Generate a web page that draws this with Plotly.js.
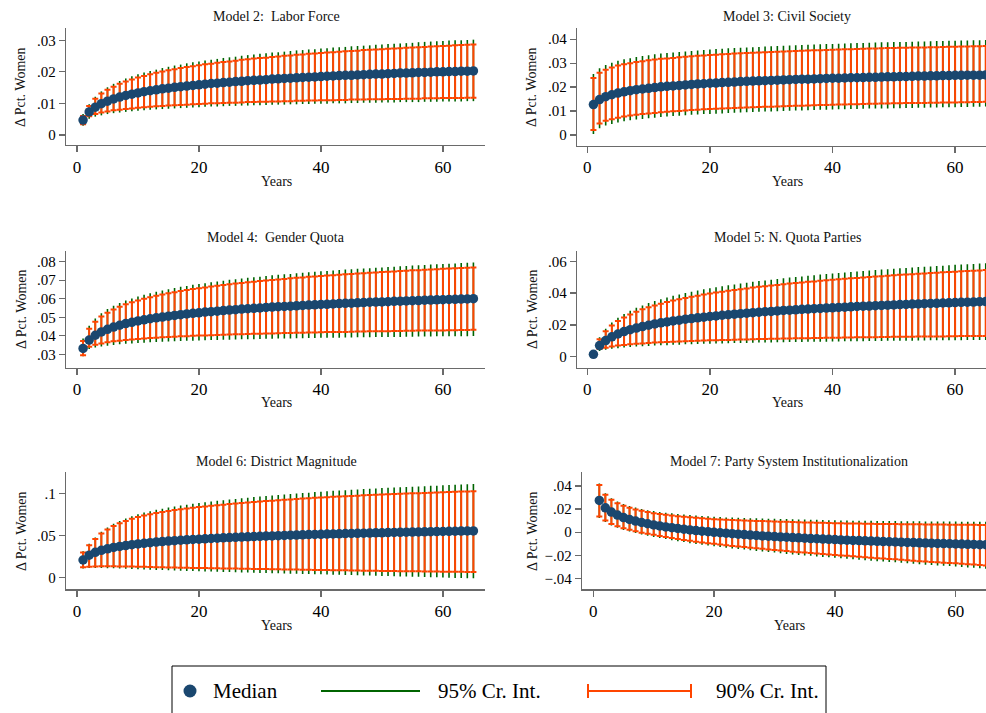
<!DOCTYPE html>
<html><head><meta charset="utf-8">
<script src="https://cdn.plot.ly/plotly-3.0.1.min.js"></script>
<style>html,body{margin:0;padding:0;background:#fff;}#chart{width:986px;height:713px;}</style>
</head><body><div id="chart"></div>
<script>
const years = [1,2,3,4,5,6,7,8,9,10,11,12,13,14,15,16,17,18,19,20,21,22,23,24,25,26,27,28,29,30,31,32,33,34,35,36,37,38,39,40,41,42,43,44,45,46,47,48,49,50,51,52,53,54,55,56,57,58,59,60,61,62,63,64,65];

// Model 2: Labor Force
const m2_median = [.0047,.0073,.0088,.0099,.0107,.0114,.0120,.0125,.0129,.0133,
.0137,.0140,.0143,.0146,.0148,.0151,.0153,.0155,.0157,.0159,
.0161,.0163,.0164,.0166,.0167,.0169,.0170,.0172,.0173,.0174,
.0175,.0177,.0178,.0179,.0180,.0181,.0182,.0183,.0184,.0185,
.0186,.0187,.0188,.0189,.0189,.0190,.0191,.0192,.0193,.0193,
.0194,.0195,.0196,.0196,.0197,.0198,.0198,.0199,.0200,.0200,
.0201,.0201,.0202,.0202,.0203];
const m2_hi90 = [.0060,.0092,.0115,.0131,.0143,.0153,.0162,.0169,.0176,.0182,
.0187,.0192,.0197,.0201,.0205,.0208,.0212,.0215,.0218,.0221,
.0224,.0226,.0229,.0231,.0233,.0235,.0238,.0240,.0242,.0244,
.0245,.0247,.0249,.0251,.0252,.0254,.0255,.0257,.0258,.0260,
.0261,.0262,.0264,.0265,.0266,.0267,.0269,.0270,.0271,.0272,
.0273,.0274,.0275,.0276,.0277,.0278,.0279,.0280,.0281,.0282,
.0283,.0284,.0285,.0286,.0287];
const m2_lo90 = [.0034,.0059,.0066,.0071,.0074,.0078,.0080,.0082,.0084,.0086,
.0088,.0089,.0091,.0092,.0093,.0094,.0095,.0096,.0097,.0098,
.0099,.0100,.0100,.0101,.0102,.0102,.0103,.0104,.0104,.0105,
.0105,.0106,.0106,.0107,.0107,.0108,.0108,.0109,.0109,.0110,
.0110,.0110,.0111,.0111,.0112,.0112,.0112,.0113,.0113,.0113,
.0114,.0114,.0114,.0115,.0115,.0115,.0116,.0116,.0116,.0117,
.0117,.0117,.0117,.0118,.0118];
const m2_hi95 = [.0066,.0097,.0121,.0138,.0151,.0162,.0171,.0179,.0186,.0192,
.0198,.0203,.0207,.0212,.0216,.0220,.0223,.0227,.0230,.0233,
.0236,.0238,.0241,.0244,.0246,.0248,.0251,.0253,.0255,.0257,
.0259,.0261,.0262,.0264,.0266,.0268,.0269,.0271,.0272,.0274,
.0275,.0277,.0278,.0279,.0281,.0282,.0283,.0284,.0286,.0287,
.0288,.0289,.0290,.0291,.0292,.0294,.0295,.0296,.0297,.0298,
.0299,.0300,.0300,.0301,.0302];
const m2_lo95 = [.0029,.0051,.0058,.0062,.0066,.0069,.0071,.0073,.0075,.0077,
.0078,.0080,.0081,.0082,.0083,.0084,.0085,.0086,.0087,.0088,
.0089,.0090,.0090,.0091,.0092,.0092,.0093,.0093,.0094,.0094,
.0095,.0096,.0096,.0096,.0097,.0097,.0098,.0098,.0099,.0099,
.0099,.0100,.0100,.0100,.0101,.0101,.0102,.0102,.0102,.0103,
.0103,.0103,.0104,.0104,.0104,.0104,.0105,.0105,.0105,.0106,
.0106,.0106,.0106,.0107,.0107];

// Model 3: Civil Society
const m3_median = [.0127,.0148,.0160,.0168,.0175,.0180,.0185,.0189,.0192,.0195,
.0198,.0201,.0203,.0205,.0207,.0209,.0211,.0213,.0214,.0216,
.0217,.0219,.0220,.0221,.0223,.0224,.0225,.0226,.0227,.0228,
.0229,.0230,.0231,.0232,.0233,.0233,.0234,.0235,.0236,.0237,
.0237,.0238,.0239,.0239,.0240,.0241,.0241,.0242,.0243,.0243,
.0244,.0244,.0245,.0246,.0246,.0247,.0247,.0248,.0248,.0249,
.0249,.0250,.0250,.0250,.0251];
const m3_hi90 = [.0238,.0260,.0273,.0282,.0290,.0295,.0300,.0305,.0308,.0312,
.0315,.0318,.0320,.0322,.0325,.0327,.0329,.0331,.0332,.0334,
.0335,.0337,.0338,.0340,.0341,.0342,.0344,.0345,.0346,.0347,
.0348,.0349,.0350,.0351,.0352,.0353,.0354,.0354,.0355,.0356,
.0357,.0358,.0358,.0359,.0360,.0361,.0361,.0362,.0363,.0363,
.0364,.0364,.0365,.0366,.0366,.0367,.0367,.0368,.0369,.0369,
.0370,.0370,.0371,.0371,.0372];
const m3_lo90 = [.0021,.0048,.0059,.0066,.0072,.0077,.0081,.0084,.0087,.0090,
.0092,.0095,.0097,.0099,.0100,.0102,.0104,.0105,.0107,.0108,
.0109,.0110,.0112,.0113,.0114,.0115,.0116,.0117,.0118,.0118,
.0119,.0120,.0121,.0122,.0122,.0123,.0124,.0125,.0125,.0126,
.0127,.0127,.0128,.0128,.0129,.0130,.0130,.0131,.0131,.0132,
.0132,.0133,.0133,.0134,.0134,.0135,.0135,.0136,.0136,.0136,
.0137,.0137,.0138,.0138,.0139];
const m3_hi95 = [.0255,.0279,.0292,.0302,.0310,.0316,.0321,.0326,.0330,.0333,
.0337,.0340,.0342,.0345,.0347,.0349,.0351,.0353,.0355,.0357,
.0359,.0360,.0362,.0363,.0364,.0366,.0367,.0368,.0370,.0371,
.0372,.0373,.0374,.0375,.0376,.0377,.0378,.0379,.0380,.0380,
.0381,.0382,.0383,.0384,.0384,.0385,.0386,.0387,.0387,.0388,
.0389,.0389,.0390,.0391,.0391,.0392,.0393,.0393,.0394,.0394,
.0395,.0395,.0396,.0396,.0397];
const m3_lo95 = [.0004,.0028,.0039,.0046,.0052,.0057,.0061,.0064,.0067,.0070,
.0072,.0075,.0077,.0079,.0080,.0082,.0084,.0085,.0087,.0088,
.0089,.0090,.0092,.0093,.0094,.0095,.0096,.0097,.0098,.0098,
.0099,.0100,.0101,.0102,.0102,.0103,.0104,.0105,.0105,.0106,
.0107,.0107,.0108,.0108,.0109,.0110,.0110,.0111,.0111,.0112,
.0112,.0113,.0113,.0114,.0114,.0115,.0115,.0116,.0116,.0116,
.0117,.0117,.0118,.0118,.0119];

// Model 4: Gender Quota
const m4_median = [.0332,.0377,.0403,.0421,.0435,.0447,.0457,.0466,.0473,.0480,
.0486,.0492,.0497,.0501,.0506,.0510,.0514,.0518,.0521,.0524,
.0528,.0530,.0533,.0536,.0539,.0541,.0544,.0546,.0548,.0550,
.0553,.0555,.0557,.0558,.0560,.0562,.0564,.0566,.0567,.0569,
.0570,.0572,.0574,.0575,.0576,.0578,.0579,.0581,.0582,.0583,
.0584,.0586,.0587,.0588,.0589,.0590,.0592,.0593,.0594,.0595,
.0596,.0597,.0598,.0599,.0600];
const m4_hi90 = [.0372,.0438,.0476,.0504,.0525,.0542,.0557,.0570,.0581,.0591,
.0600,.0608,.0616,.0623,.0629,.0635,.0641,.0647,.0652,.0657,
.0661,.0666,.0670,.0674,.0678,.0682,.0685,.0689,.0692,.0695,
.0698,.0701,.0704,.0707,.0710,.0713,.0715,.0718,.0720,.0723,
.0725,.0727,.0729,.0732,.0734,.0736,.0738,.0740,.0742,.0744,
.0746,.0747,.0749,.0751,.0753,.0754,.0756,.0758,.0759,.0761,
.0763,.0764,.0766,.0767,.0769];
const m4_lo90 = [.0295,.0341,.0352,.0359,.0365,.0370,.0374,.0377,.0380,.0383,
.0385,.0388,.0390,.0392,.0393,.0395,.0397,.0398,.0400,.0401,
.0402,.0403,.0405,.0406,.0407,.0408,.0409,.0410,.0411,.0411,
.0412,.0413,.0414,.0415,.0415,.0416,.0417,.0418,.0418,.0419,
.0420,.0420,.0421,.0421,.0422,.0423,.0423,.0424,.0424,.0425,
.0425,.0426,.0426,.0427,.0427,.0428,.0428,.0429,.0429,.0429,
.0430,.0430,.0431,.0431,.0432];
const m4_hi95 = [.0386,.0454,.0494,.0522,.0544,.0562,.0577,.0590,.0601,.0612,
.0621,.0630,.0637,.0645,.0651,.0658,.0664,.0669,.0675,.0680,
.0684,.0689,.0693,.0697,.0702,.0705,.0709,.0713,.0716,.0719,
.0723,.0726,.0729,.0732,.0734,.0737,.0740,.0743,.0745,.0748,
.0750,.0752,.0755,.0757,.0759,.0761,.0763,.0765,.0767,.0769,
.0771,.0773,.0775,.0777,.0779,.0781,.0782,.0784,.0786,.0787,
.0789,.0790,.0792,.0794,.0795];
const m4_lo95 = [.0290,.0329,.0337,.0343,.0347,.0351,.0354,.0357,.0359,.0361,
.0363,.0365,.0366,.0368,.0369,.0371,.0372,.0373,.0374,.0375,
.0376,.0377,.0378,.0379,.0379,.0380,.0381,.0382,.0382,.0383,
.0384,.0384,.0385,.0386,.0386,.0387,.0387,.0388,.0388,.0389,
.0389,.0390,.0390,.0391,.0391,.0392,.0392,.0392,.0393,.0393,
.0394,.0394,.0394,.0395,.0395,.0396,.0396,.0396,.0397,.0397,
.0397,.0398,.0398,.0398,.0399];

// Model 5: N. Quota Parties
const m5_median = [.0015,.0070,.0102,.0125,.0143,.0158,.0170,.0180,.0190,.0198,
.0206,.0213,.0219,.0225,.0230,.0236,.0240,.0245,.0249,.0253,
.0257,.0261,.0264,.0268,.0271,.0274,.0277,.0280,.0283,.0285,
.0288,.0291,.0293,.0295,.0298,.0300,.0302,.0304,.0306,.0308,
.0310,.0312,.0314,.0316,.0318,.0319,.0321,.0323,.0324,.0326,
.0328,.0329,.0331,.0332,.0334,.0335,.0336,.0338,.0339,.0341,
.0342,.0343,.0344,.0346,.0347];
const m5_hi90 = [.0023,.0110,.0160,.0196,.0224,.0247,.0266,.0283,.0298,.0311,
.0323,.0334,.0344,.0353,.0362,.0370,.0377,.0384,.0391,.0398,
.0404,.0409,.0415,.0420,.0425,.0430,.0435,.0440,.0444,.0448,
.0452,.0456,.0460,.0464,.0467,.0471,.0474,.0478,.0481,.0484,
.0487,.0490,.0493,.0496,.0499,.0502,.0504,.0507,.0510,.0512,
.0515,.0517,.0519,.0522,.0524,.0526,.0528,.0531,.0533,.0535,
.0537,.0539,.0541,.0543,.0545];
const m5_lo90 = [.0008,.0048,.0057,.0064,.0070,.0074,.0078,.0081,.0084,.0086,
.0089,.0091,.0093,.0094,.0096,.0098,.0099,.0100,.0102,.0103,
.0104,.0105,.0106,.0107,.0108,.0109,.0110,.0111,.0112,.0113,
.0113,.0114,.0115,.0116,.0116,.0117,.0118,.0118,.0119,.0120,
.0120,.0121,.0121,.0122,.0122,.0123,.0123,.0124,.0124,.0125,
.0125,.0126,.0126,.0127,.0127,.0128,.0128,.0128,.0129,.0129,
.0130,.0130,.0130,.0131,.0131];
const m5_hi95 = [.0025,.0122,.0176,.0215,.0245,.0269,.0290,.0308,.0323,.0338,
.0350,.0362,.0373,.0383,.0392,.0401,.0409,.0416,.0424,.0431,
.0437,.0443,.0449,.0455,.0460,.0466,.0471,.0476,.0480,.0485,
.0489,.0493,.0498,.0502,.0505,.0509,.0513,.0517,.0520,.0523,
.0527,.0530,.0533,.0536,.0539,.0542,.0545,.0548,.0551,.0553,
.0556,.0558,.0561,.0564,.0566,.0568,.0571,.0573,.0576,.0578,
.0580,.0582,.0584,.0586,.0588];
const m5_lo95 = [.0006,.0036,.0044,.0050,.0054,.0058,.0061,.0064,.0066,.0068,
.0070,.0072,.0073,.0075,.0076,.0078,.0079,.0080,.0081,.0082,
.0083,.0084,.0085,.0086,.0086,.0087,.0088,.0089,.0089,.0090,
.0091,.0091,.0092,.0093,.0093,.0094,.0094,.0095,.0095,.0096,
.0096,.0097,.0097,.0098,.0098,.0099,.0099,.0099,.0100,.0100,
.0101,.0101,.0101,.0102,.0102,.0103,.0103,.0103,.0104,.0104,
.0104,.0105,.0105,.0105,.0106];

// Model 6: District Magnitude
const m6_median = [.0206,.0263,.0297,.0321,.0339,.0355,.0367,.0378,.0388,.0397,
.0405,.0412,.0419,.0425,.0431,.0436,.0441,.0446,.0450,.0454,
.0458,.0462,.0466,.0470,.0473,.0476,.0479,.0482,.0485,.0488,
.0491,.0493,.0496,.0498,.0501,.0503,.0505,.0508,.0510,.0512,
.0514,.0516,.0518,.0520,.0522,.0523,.0525,.0527,.0529,.0530,
.0532,.0534,.0535,.0537,.0538,.0540,.0541,.0543,.0544,.0545,
.0547,.0548,.0550,.0551,.0552];
const m6_hi90 = [.0295,.0380,.0455,.0520,.0570,.0610,.0643,.0671,.0696,.0717,
.0735,.0751,.0765,.0778,.0790,.0800,.0810,.0819,.0828,.0836,
.0844,.0851,.0858,.0865,.0872,.0878,.0884,.0890,.0896,.0902,
.0907,.0912,.0917,.0922,.0927,.0932,.0937,.0941,.0946,.0950,
.0954,.0958,.0962,.0965,.0969,.0972,.0976,.0979,.0983,.0986,
.0989,.0992,.0994,.0997,.1000,.1002,.1005,.1008,.1010,.1013,
.1015,.1018,.1020,.1022,.1025];
const m6_lo90 = [.0119,.0125,.0128,.0130,.0130,.0130,.0129,.0128,.0127,.0126,
.0124,.0123,.0121,.0120,.0118,.0117,.0115,.0114,.0112,.0111,
.0110,.0108,.0107,.0106,.0105,.0104,.0102,.0101,.0100,.0099,
.0098,.0096,.0095,.0094,.0093,.0092,.0090,.0089,.0088,.0087,
.0086,.0085,.0084,.0083,.0082,.0080,.0079,.0078,.0077,.0076,
.0075,.0074,.0073,.0072,.0071,.0071,.0070,.0069,.0068,.0067,
.0066,.0066,.0065,.0064,.0063];
const m6_hi95 = [.0310,.0398,.0475,.0542,.0594,.0636,.0671,.0701,.0727,.0750,
.0770,.0787,.0803,.0817,.0831,.0842,.0854,.0864,.0875,.0884,
.0893,.0901,.0910,.0918,.0926,.0933,.0940,.0948,.0955,.0962,
.0968,.0974,.0980,.0986,.0992,.0997,.1003,.1008,.1014,.1019,
.1024,.1029,.1033,.1037,.1042,.1045,.1050,.1054,.1058,.1062,
.1066,.1069,.1072,.1076,.1079,.1082,.1085,.1089,.1091,.1095,
.1098,.1102,.1105,.1107,.1111];
const m6_lo95 = [.0105,.0110,.0111,.0110,.0109,.0107,.0105,.0102,.0099,.0096,
.0093,.0091,.0088,.0086,.0083,.0081,.0079,.0076,.0074,.0072,
.0070,.0068,.0066,.0064,.0062,.0060,.0058,.0056,.0054,.0052,
.0050,.0049,.0047,.0045,.0043,.0042,.0040,.0038,.0037,.0035,
.0033,.0031,.0029,.0027,.0026,.0024,.0022,.0020,.0018,.0016,
.0014,.0012,.0010,.0008,.0007,.0005,.0003,.0001,-.0001,-.0003,
-.0005,-.0007,-.0008,-.0010,-.0012];

// Model 7: Party System Institutionalization
const m7_median = [.0275,.0211,.0174,.0148,.0127,.0110,.0096,.0084,.0073,.0063,
.0054,.0046,.0039,.0032,.0026,.0020,.0014,.0009,.0004,-.0001,
-.0005,-.0009,-.0013,-.0017,-.0021,-.0025,-.0028,-.0032,-.0035,-.0038,
-.0041,-.0044,-.0047,-.0049,-.0052,-.0055,-.0057,-.0060,-.0062,-.0064,
-.0067,-.0069,-.0071,-.0073,-.0075,-.0077,-.0079,-.0081,-.0083,-.0085,
-.0087,-.0089,-.0090,-.0092,-.0094,-.0095,-.0097,-.0099,-.0100,-.0102,
-.0103,-.0105,-.0106,-.0108,-.0109];
const m7_hi90 = [.0409,.0325,.0281,.0251,.0229,.0212,.0197,.0185,.0174,.0165,
.0158,.0151,.0145,.0139,.0134,.0129,.0125,.0121,.0117,.0113,
.0110,.0107,.0105,.0103,.0101,.0099,.0097,.0096,.0094,.0093,
.0091,.0090,.0088,.0087,.0085,.0084,.0082,.0081,.0079,.0078,
.0077,.0076,.0075,.0075,.0074,.0073,.0072,.0072,.0071,.0070,
.0069,.0069,.0068,.0068,.0067,.0067,.0066,.0066,.0065,.0065,
.0064,.0064,.0064,.0063,.0063];
const m7_lo90 = [.0136,.0101,.0072,.0052,.0035,.0021,.0008,-.0004,-.0014,-.0023,
-.0033,-.0042,-.0051,-.0059,-.0067,-.0075,-.0082,-.0089,-.0095,-.0101,
-.0107,-.0113,-.0119,-.0124,-.0129,-.0134,-.0139,-.0144,-.0149,-.0154,
-.0159,-.0164,-.0169,-.0173,-.0177,-.0181,-.0185,-.0189,-.0193,-.0197,
-.0201,-.0205,-.0209,-.0213,-.0217,-.0221,-.0225,-.0229,-.0232,-.0235,
-.0239,-.0243,-.0247,-.0251,-.0255,-.0258,-.0261,-.0264,-.0267,-.0270,
-.0274,-.0277,-.0281,-.0284,-.0288];
const m7_hi95 = [.0421,.0337,.0294,.0265,.0244,.0227,.0213,.0201,.0191,.0183,
.0176,.0169,.0164,.0158,.0153,.0149,.0145,.0141,.0138,.0134,
.0131,.0128,.0127,.0125,.0123,.0121,.0120,.0119,.0117,.0116,
.0114,.0114,.0112,.0111,.0109,.0108,.0107,.0106,.0104,.0103,
.0102,.0101,.0100,.0100,.0100,.0099,.0098,.0098,.0097,.0096,
.0095,.0095,.0094,.0094,.0093,.0093,.0093,.0092,.0092,.0092,
.0091,.0091,.0091,.0091,.0091];
const m7_lo95 = [.0124,.0089,.0059,.0038,.0020,.0006,-.0008,-.0020,-.0031,-.0041,
-.0051,-.0060,-.0070,-.0078,-.0086,-.0095,-.0102,-.0109,-.0116,-.0122,
-.0128,-.0134,-.0141,-.0146,-.0151,-.0156,-.0162,-.0167,-.0172,-.0177,
-.0182,-.0188,-.0193,-.0197,-.0201,-.0205,-.0210,-.0214,-.0218,-.0222,
-.0226,-.0230,-.0234,-.0239,-.0243,-.0247,-.0251,-.0255,-.0258,-.0261,
-.0265,-.0270,-.0274,-.0278,-.0282,-.0285,-.0288,-.0291,-.0294,-.0297,
-.0302,-.0305,-.0309,-.0312,-.0316];

// Titles and tick labels
const panelTitles = ['Model 2:\u00a0 Labor Force','Model 3: Civil Society','Model 4:\u00a0 Gender Quota',
  'Model 5: N. Quota Parties','Model 6: District Magnitude','Model 7: Party System Institutionalization'];
const xTitle = 'Years';
const yTitle = '\u0394 Pct. Women';
const xTickVals = [0,20,40,60];
const xTickText = ['0','20','40','60'];
const m2_yTickVals = [0,.01,.02,.03];       const m2_yTickText = ['0','.01','.02','.03'];
const m3_yTickVals = [0,.01,.02,.03,.04];   const m3_yTickText = ['0','.01','.02','.03','.04'];
const m4_yTickVals = [.03,.04,.05,.06,.07,.08]; const m4_yTickText = ['.03','.04','.05','.06','.07','.08'];
const m5_yTickVals = [0,.02,.04,.06];       const m5_yTickText = ['0','.02','.04','.06'];
const m6_yTickVals = [0,.05,.1];            const m6_yTickText = ['0','.05','.1'];
const m7_yTickVals = [-.04,-.02,0,.02,.04]; const m7_yTickText = ['\u2212.04','\u2212.02','0','.02','.04'];
const legendLabels = ['Median','95% Cr. Int.','90% Cr. Int.'];

const panels = [
  {med:m2_median, lo90:m2_lo90, hi90:m2_hi90, lo95:m2_lo95, hi95:m2_hi95, tv:m2_yTickVals, tt:m2_yTickText},
  {med:m3_median, lo90:m3_lo90, hi90:m3_hi90, lo95:m3_lo95, hi95:m3_hi95, tv:m3_yTickVals, tt:m3_yTickText},
  {med:m4_median, lo90:m4_lo90, hi90:m4_hi90, lo95:m4_lo95, hi95:m4_hi95, tv:m4_yTickVals, tt:m4_yTickText},
  {med:m5_median, lo90:m5_lo90, hi90:m5_hi90, lo95:m5_lo95, hi95:m5_hi95, tv:m5_yTickVals, tt:m5_yTickText},
  {med:m6_median, lo90:m6_lo90, hi90:m6_hi90, lo95:m6_lo95, hi95:m6_hi95, tv:m6_yTickVals, tt:m6_yTickText},
  {med:m7_median, lo90:m7_lo90, hi90:m7_hi90, lo95:m7_lo95, hi95:m7_hi95, tv:m7_yTickVals, tt:m7_yTickText}
];

// Layout geometry (pixels on the 986x713 page)
const W = 986, H = 713;
const place = [
  {x0:66,  x1:485, y0:28,    y1:145,   xr:[-1.8,66.9],   yr:[-0.0032,0.0339], tx:276, ty:16,  yx:21,  yy:87,  xy:182},
  {x0:577, x1:986, y0:28,    y1:145.7, xr:[-1.68,65.04], yr:[-0.0045,0.0447], tx:787, ty:16,  yx:532, yy:87,  xy:182},
  {x0:66,  x1:485, y0:250.7, y1:367.7, xr:[-1.8,66.9],   yr:[0.0228,0.0859],  tx:276, ty:238, yx:21,  yy:309, xy:403},
  {x0:577, x1:986, y0:250.7, y1:367.7, xr:[-1.68,65.04], yr:[-0.0069,0.0667], tx:787, ty:238, yx:532, yy:309, xy:403},
  {x0:66,  x1:485, y0:472.3, y1:589.3, xr:[-1.8,66.9],   yr:[-0.0143,0.125],  tx:276, ty:461, yx:21,  yy:531, xy:625},
  {x0:582, x1:986, y0:472.3, y1:589.3, xr:[-1.87,65.02], yr:[-0.0495,0.0519], tx:789, ty:461, yx:532, yy:531, xy:625}
];
const px = v => v / W;
const py = v => 1 - v / H;

const FONT = 'Liberation Serif, Times New Roman, serif';
const AXC = '#6a6a6a';
const C_MED = '#1a476f', C95 = '#006400', C90 = '#ff4500';

const data = [];
const layout = {
  width: W, height: H, margin: {l:0, r:0, t:0, b:0},
  paper_bgcolor: '#fff', plot_bgcolor: '#fff',
  showlegend: false, hovermode: false,
  annotations: [], shapes: []
};

panels.forEach((p, i) => {
  const n = i + 1, s = n === 1 ? '' : String(n);
  const g = place[i];
  const up95 = p.hi95.map((v, k) => v - p.med[k]);
  const dn95 = p.lo95.map((v, k) => p.med[k] - v);
  const up90 = p.hi90.map((v, k) => v - p.med[k]);
  const dn90 = p.lo90.map((v, k) => p.med[k] - v);
  const base = {x: years, y: p.med, xaxis: 'x' + s, yaxis: 'y' + s, mode: 'markers', hoverinfo: 'skip', showlegend: false};
  data.push(Object.assign({}, base, {marker: {size: 1, color: 'rgba(0,0,0,0)'},
    error_y: {type: 'data', symmetric: false, array: up95, arrayminus: dn95, color: C95, thickness: 1.6, width: 0}}));
  data.push(Object.assign({}, base, {marker: {size: 1, color: 'rgba(0,0,0,0)'},
    error_y: {type: 'data', symmetric: false, array: up90, arrayminus: dn90, color: C90, thickness: 2, width: 3}}));
  data.push(Object.assign({}, base, {marker: {size: 9.5, color: C_MED, line: {width: 0}}}));

  layout['xaxis' + s] = {
    domain: [px(g.x0), px(g.x1)], range: g.xr, anchor: 'y' + s,
    showline: true, linecolor: AXC, linewidth: 1.3, mirror: false,
    ticks: 'outside', ticklen: 6, tickwidth: 1.3, tickcolor: AXC,
    tickmode: 'array', tickvals: xTickVals, ticktext: xTickText,
    tickfont: {family: FONT, size: 17, color: '#000'},
    showgrid: false, zeroline: false, fixedrange: true
  };
  layout['yaxis' + s] = {
    domain: [py(g.y1), py(g.y0)], range: g.yr, anchor: 'x' + s,
    showline: true, linecolor: AXC, linewidth: 1.3, mirror: false,
    ticks: 'outside', ticklen: 6, tickwidth: 1.3, tickcolor: AXC,
    tickmode: 'array', tickvals: p.tv, ticktext: p.tt,
    tickfont: {family: FONT, size: 15, color: '#000'},
    showgrid: false, zeroline: false, fixedrange: true
  };
  layout.annotations.push({text: panelTitles[i], xref: 'paper', yref: 'paper', x: px(g.tx), y: py(g.ty),
    xanchor: 'center', yanchor: 'middle', showarrow: false, font: {family: FONT, size: 14, color: '#111'}});
  layout.annotations.push({text: xTitle, xref: 'paper', yref: 'paper', x: px(g.tx), y: py(g.xy),
    xanchor: 'center', yanchor: 'middle', showarrow: false, font: {family: FONT, size: 14, color: '#111'}});
  layout.annotations.push({text: yTitle, xref: 'paper', yref: 'paper', x: px(g.yx), y: py(g.yy), textangle: -90,
    xanchor: 'center', yanchor: 'middle', showarrow: false, font: {family: FONT, size: 14, color: '#111'}});
});

// Legend (drawn as shapes and text)
const LY = 691;
layout.shapes.push({type: 'rect', xref: 'paper', yref: 'paper', x0: px(172), x1: px(826), y0: py(730), y1: py(666),
  line: {color: '#000', width: 1}, fillcolor: 'rgba(0,0,0,0)'});
layout.shapes.push({type: 'circle', xref: 'paper', yref: 'paper', x0: px(183.5), x1: px(196.5), y0: py(LY + 6.5), y1: py(LY - 6.5),
  line: {width: 0}, fillcolor: C_MED});
layout.shapes.push({type: 'line', xref: 'paper', yref: 'paper', x0: px(321), x1: px(420), y0: py(LY), y1: py(LY),
  line: {color: C95, width: 2}});
layout.shapes.push({type: 'line', xref: 'paper', yref: 'paper', x0: px(588), x1: px(691), y0: py(LY), y1: py(LY),
  line: {color: C90, width: 2}});
layout.shapes.push({type: 'line', xref: 'paper', yref: 'paper', x0: px(588), x1: px(588), y0: py(LY + 7), y1: py(LY - 7),
  line: {color: C90, width: 2}});
layout.shapes.push({type: 'line', xref: 'paper', yref: 'paper', x0: px(691), x1: px(691), y0: py(LY + 7), y1: py(LY - 7),
  line: {color: C90, width: 2}});
[[211, legendLabels[0]], [436, legendLabels[1]], [714, legendLabels[2]]].forEach(([x, t]) => {
  layout.annotations.push({text: t, xref: 'paper', yref: 'paper', x: px(x), y: py(LY), xanchor: 'left', yanchor: 'middle',
    showarrow: false, font: {family: FONT, size: 21, color: '#000'}});
});

Plotly.newPlot('chart', data, layout, {staticPlot: true, displayModeBar: false});
</script>
</body></html>
